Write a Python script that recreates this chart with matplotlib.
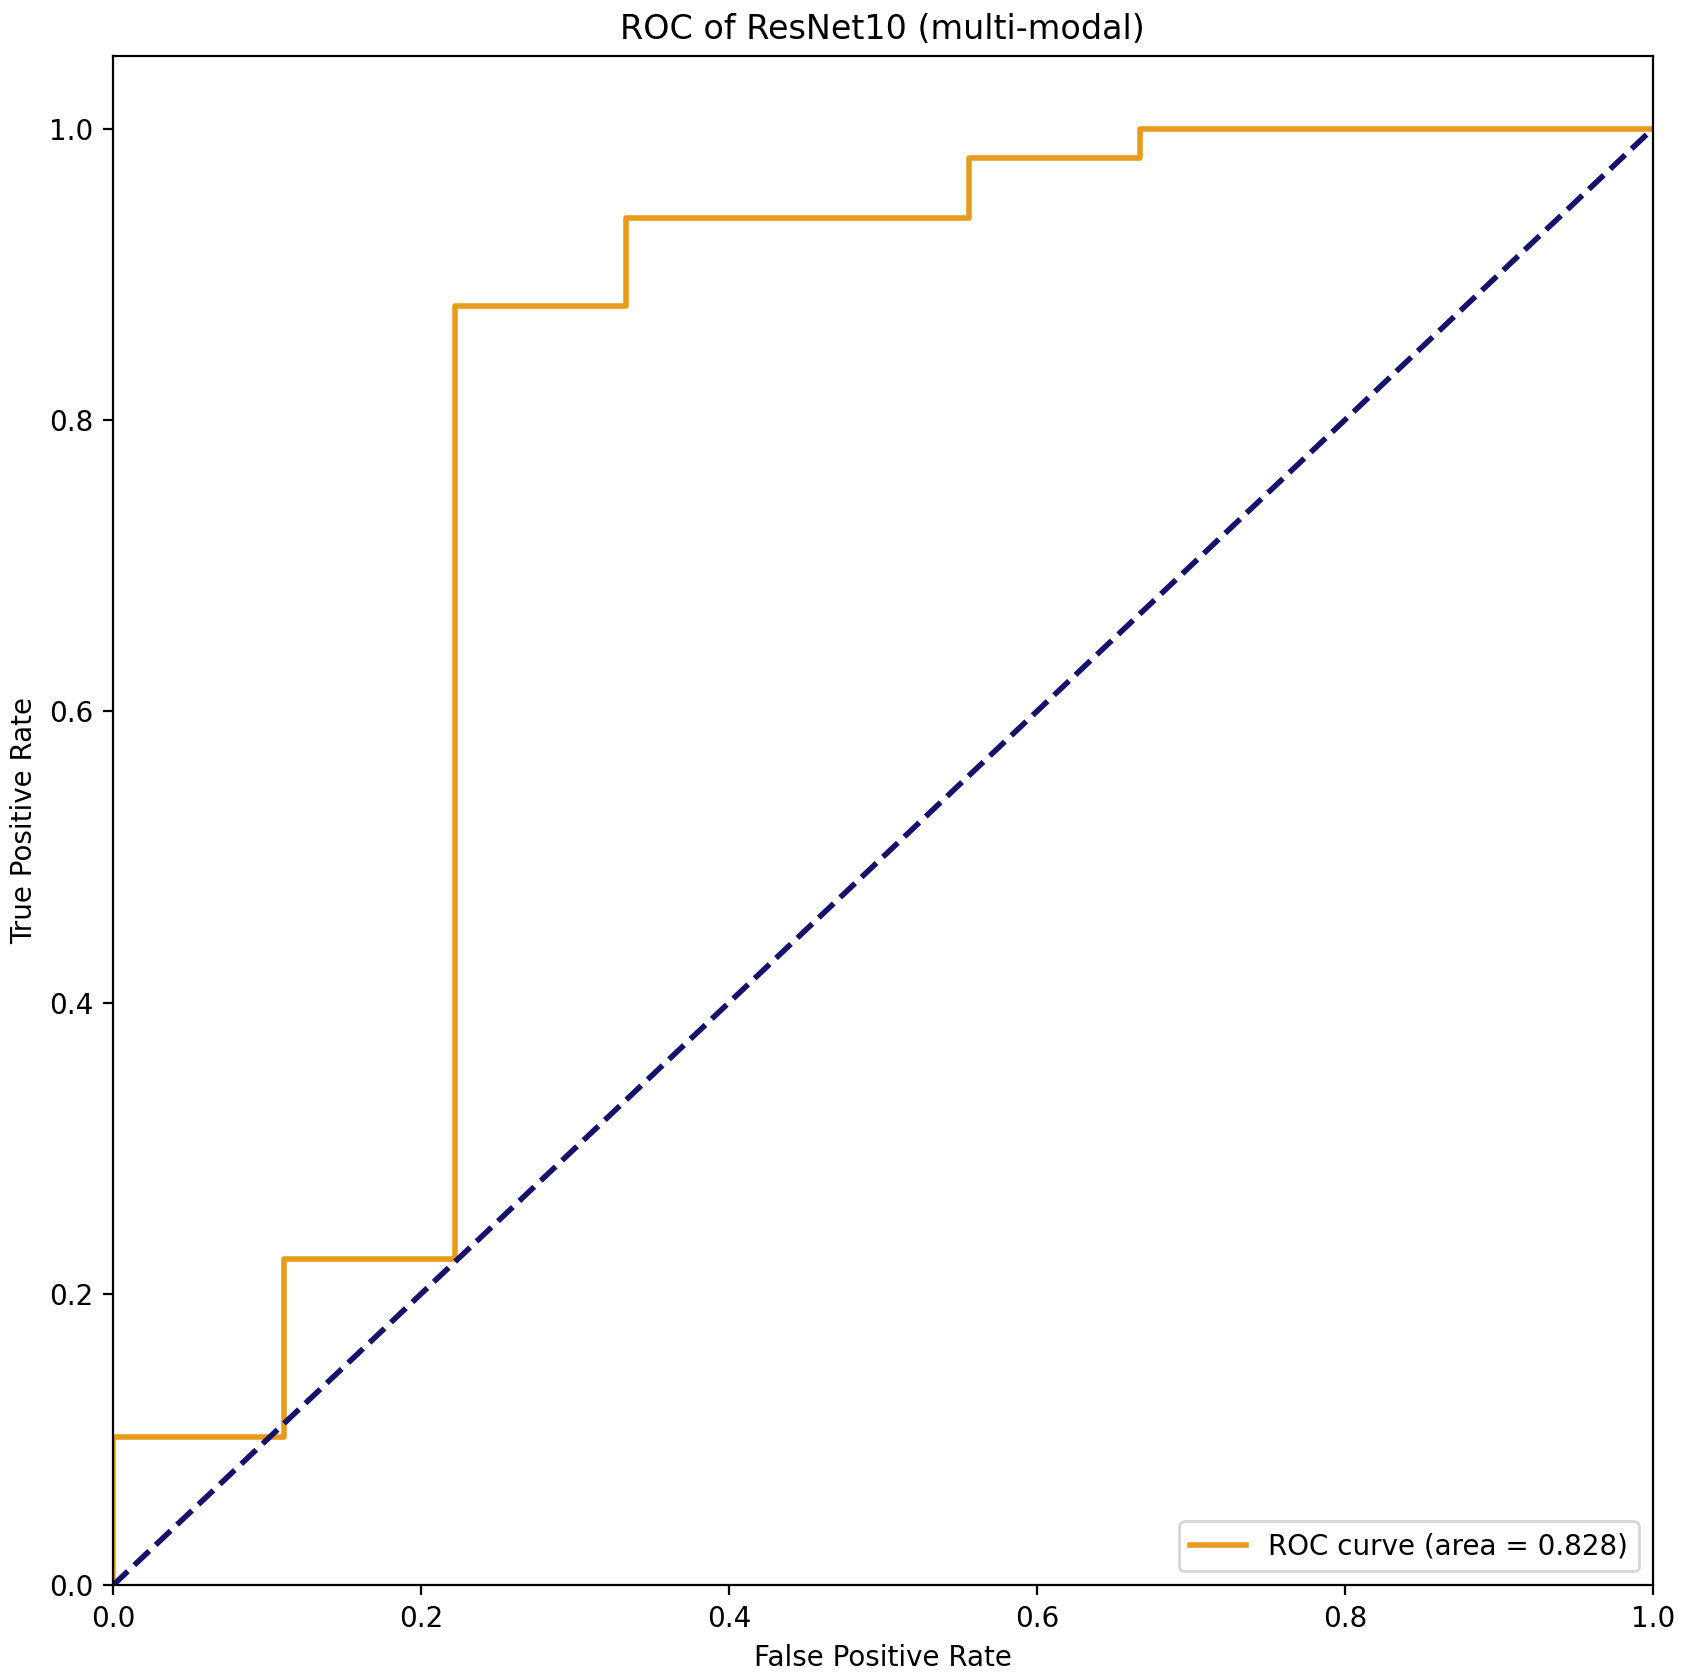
import matplotlib
matplotlib.use("Agg")
import matplotlib.pyplot as plt

fpr = [0.0, 0.0, 0.111, 0.111, 0.222, 0.222, 0.333, 0.333, 0.556, 0.556, 0.667, 0.667, 1.0]
tpr = [0.0, 0.102, 0.102, 0.224, 0.224, 0.878, 0.878, 0.939, 0.939, 0.980, 0.980, 1.0, 1.0]
chance_x = [0.0, 1.0]
chance_y = [0.0, 1.0]
roc_auc = 0.828

DPI = 200
fig = plt.figure(figsize=(1685 / DPI, 1678 / DPI), dpi=DPI)
ax = fig.add_axes([0.067, 0.0552, 0.9809 - 0.067, 0.9667 - 0.0552])
ax.plot(fpr, tpr, color="#E89A1C", lw=2, label="ROC curve (area = %0.3f)" % roc_auc)
ax.plot(chance_x, chance_y, color="#15126B", lw=2, linestyle="--")
ax.set_xlim(0.0, 1.0)
ax.set_ylim(0.0, 1.05)
ax.set_xlabel("False Positive Rate")
ax.set_ylabel("True Positive Rate")
ax.set_title("ROC of ResNet10 (multi-modal)")
ax.legend(loc="lower right")
fig.savefig("out.png", dpi=DPI)
